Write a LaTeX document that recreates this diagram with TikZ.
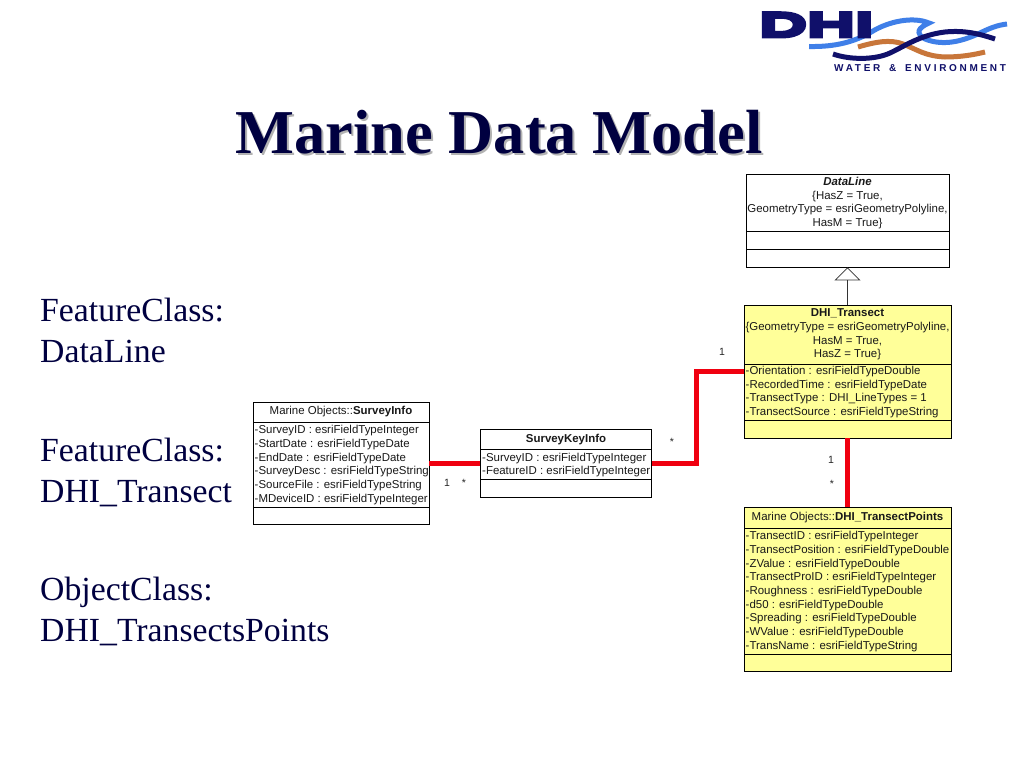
\documentclass[tikz,border=0pt]{standalone}
\usepackage{fontspec}
\usetikzlibrary{arrows.meta}
\setmainfont{Liberation Serif}
\setsansfont{Liberation Sans}
\newfontfamily\dhifont[FakeStretch=1.95,FakeBold=11]{Liberation Sans Bold}
\newfontfamily\waterfont[LetterSpace=27,WordSpace=1.6]{Liberation Sans Bold}
\definecolor{navy}{HTML}{000040}
\definecolor{logonavy}{HTML}{10106A}
\definecolor{logoblue}{HTML}{3F7FE8}
\definecolor{logoorange}{HTML}{C8763A}
\definecolor{classyellow}{HTML}{FFFF99}
\definecolor{linkred}{HTML}{F00010}
\tikzset{
  classbox/.style={draw=black,line width=0.8pt,inner sep=0pt},
  plainclass/.style={classbox,fill=white},
  yellowclass/.style={classbox,fill=classyellow},
  divider/.style={draw=black,line width=0.8pt},
  umltext/.style={inner sep=0pt,font=\sffamily\fontsize{11.45}{13.65}\selectfont,text=black!90},
  head/.style={umltext,align=center},
  attrs/.style={umltext,align=left,anchor=west},
  mult/.style={inner sep=0pt,font=\sffamily\fontsize{10.5}{12}\selectfont,text=black!85},
  sidetext/.style={inner sep=0pt,anchor=west,align=left,text=navy,font=\fontsize{33.75}{41}\selectfont},
  titletext/.style={inner sep=0pt,font=\bfseries\fontsize{62.4}{70}\selectfont},
  rellink/.style={draw=linkred,line width=5pt,line join=miter},
  generalize/.style={draw=black!80,line width=0.7pt,-{Triangle[open,length=13pt,width=26pt]}},
  wave/.style={line width=5pt,line cap=butt}
}
\begin{document}
\begin{tikzpicture}[x=1pt,y=-1pt]
\useasboundingbox (0,0) rectangle (1024,768);
\fill[white] (0,0) rectangle (1024,768);

% logo
\draw[wave,logoorange] (858,47) .. controls (875,42) and (890,39) .. (903,44) .. controls (918,50) and (925,56) .. (945,57) .. controls (960,57) and (973,55) .. (985,52);
\draw[wave,logoblue] (809,46.5) .. controls (835,47) and (855,42) .. (873,31) .. controls (888,22) and (912,16) .. (929,23) .. controls (918,28) and (915,33) .. (925,39) .. controls (945,47) and (965,40) .. (980,33) .. controls (990,28) and (998,25) .. (1007,24);
\draw[wave,logonavy] (833,54) .. controls (850,60) and (875,60) .. (890,53) .. controls (905,46) and (920,35) .. (945,32) .. controls (965,30) and (980,34) .. (995,39);
\node[inner sep=0pt,anchor=base west,text=logonavy,font=\dhifont\fontsize{34}{36}\selectfont] (dhi) at (759,36.5) {DHI};
\node[inner sep=0pt,anchor=base west,text=logonavy,font=\waterfont\fontsize{10}{12}\selectfont] (water) at (834,71) {WATER \& ENVIRONMENT};

% title
\node[titletext,text=black!30,anchor=base west] (titleshadow) at (237.5,155.5) {Marine Data Model};
\node[titletext,text=navy,anchor=base west] (title) at (235.5,153.5) {Marine Data Model};

% left text
\node[sidetext] (fc1) at (40,330.5) {FeatureClass:\\DataLine};
\node[sidetext] (fc2) at (40,472) {FeatureClass:\\DHI\_Transect};
\node[sidetext] (oc) at (40,611) {ObjectClass:\\DHI\_TransectsPoints};

% classes
\node[plainclass,minimum width=203pt,minimum height=93pt] (dataline) at (847.5,220.5) {};
\draw[divider] (746,231) -- (949,231) (746,249) -- (949,249);
\node[head] (datalinehead) at (847.5,203) {\textbf{\textit{DataLine}}\\\{HasZ = True,\\GeometryType = esriGeometryPolyline,\\HasM = True\}};

\node[yellowclass,minimum width=207pt,minimum height=133pt] (transect) at (847.5,371.5) {};
\draw[divider] (744,364) -- (951,364) (744,420) -- (951,420);
\node[head] (transecthead) at (847.5,334.5) {\textbf{DHI\_Transect}\\\{GeometryType = esriGeometryPolyline,\\HasM = True,\\HasZ = True\}};
\node[attrs] (transectattrs) at (745.5,392) {-Orientation : esriFieldTypeDouble\\-RecordedTime : esriFieldTypeDate\\-TransectType : DHI\_LineTypes = 1\\-TransectSource : esriFieldTypeString};

\node[plainclass,minimum width=176pt,minimum height=122pt] (surveyinfo) at (341,463) {};
\draw[divider] (253,422) -- (429,422) (253,507) -- (429,507);
\node[head] (surveyinfohead) at (341,412) {Marine Objects::\textbf{SurveyInfo}};
\node[attrs] (surveyinfoattrs) at (254.5,465) {-SurveyID : esriFieldTypeInteger\\-StartDate : esriFieldTypeDate\\-EndDate : esriFieldTypeDate\\-SurveyDesc : esriFieldTypeString\\-SourceFile : esriFieldTypeString\\-MDeviceID : esriFieldTypeInteger};

\node[plainclass,minimum width=171pt,minimum height=68pt] (surveykey) at (566,463) {};
\draw[divider] (480.5,449) -- (651.5,449) (480.5,479) -- (651.5,479);
\node[head] (surveykeyhead) at (566,439.5) {\textbf{SurveyKeyInfo}};
\node[attrs] (surveykeyattrs) at (482,465) {-SurveyID : esriFieldTypeInteger\\-FeatureID : esriFieldTypeInteger};

\node[yellowclass,minimum width=207pt,minimum height=164pt] (points) at (847.5,589.5) {};
\draw[divider] (744,528) -- (951,528) (744,654) -- (951,654);
\node[head] (pointshead) at (847.5,518) {Marine Objects::\textbf{DHI\_TransectPoints}};
\node[attrs] (pointsattrs) at (745.5,591.5) {-TransectID : esriFieldTypeInteger\\-TransectPosition : esriFieldTypeDouble\\-ZValue : esriFieldTypeDouble\\-TransectProID : esriFieldTypeInteger\\-Roughness : esriFieldTypeDouble\\-d50 : esriFieldTypeDouble\\-Spreading : esriFieldTypeDouble\\-WValue : esriFieldTypeDouble\\-TransName : esriFieldTypeString};

% connectors
\coordinate (bendlow) at (696,463);
\coordinate (bendhigh) at (696,371.5);
\draw[generalize] (transect.north) -- (dataline.south);
\draw[rellink] (surveyinfo.east) -- (surveykey.west);
\draw[rellink] (surveykey.east) -- (bendlow) -- (bendhigh) -- (transect.west);
\draw[rellink] (transect.south) -- (points.north);

% multiplicities
\node[mult] (m1) at (447,482.5) {1};
\node[mult] (m2) at (464,482.5) {*};
\node[mult] (m3) at (672,441.5) {*};
\node[mult] (m4) at (722,351.5) {1};
\node[mult] (m5) at (831,460) {1};
\node[mult] (m6) at (832,483.5) {*};
\end{tikzpicture}
\end{document}
